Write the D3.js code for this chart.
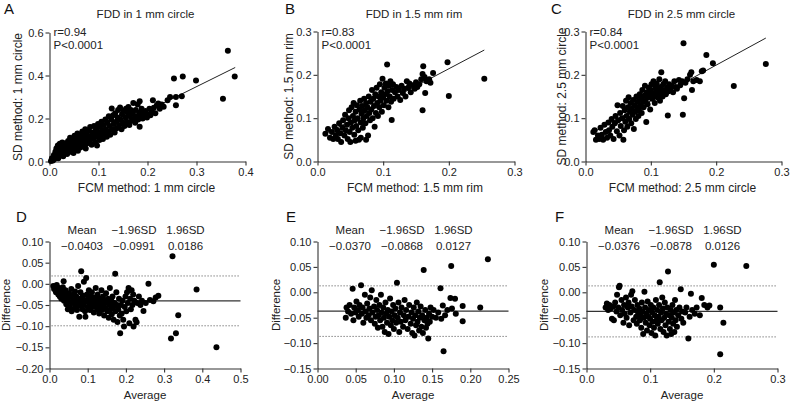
<!DOCTYPE html>
<html><head><meta charset="utf-8">
<script src="https://cdn.jsdelivr.net/npm/d3@7"></script>
<style>
html,body{margin:0;padding:0;background:#fff;}
svg{display:block;font-family:"Liberation Sans",Arial,Helvetica,sans-serif;}
</style></head>
<body>
<svg id="chart" width="790" height="403"></svg>
<script>
// ---------------- DATA ----------------
const panelLetters = ["A","B","C","D","E","F"];
const corrTitles = ["FDD in 1 mm circle","FDD in 1.5 mm rim","FDD in 2.5 mm circle"];
const corrXLabels = ["FCM method: 1 mm circle","FCM method: 1.5 mm rim","FCM method: 2.5 mm circle"];
const corrYLabels = ["SD method: 1 mm circle","SD method: 1.5 mm rim","SD method: 2.5 mm circle"];
const corrR = ["r=0.94","r=0.83","r=0.84"];
const corrP = ["P<0.0001","P<0.0001","P<0.0001"];
// regression lines: [slope, intercept, xStart, xEnd]
const fitA = [1.13, 0.009, 0.004, 0.379];
const fitB = [0.80, 0.054, 0.016, 0.254];
const fitC = [0.822, 0.058, 0.012, 0.276];

const xTicksA = [0,0.1,0.2,0.3,0.4], yTicksA = [0,0.2,0.4,0.6];
const xTicksB = [0,0.1,0.2,0.3],     yTicksB = [0,0.1,0.2,0.3];
const xTicksC = [0,0.1,0.2,0.3],     yTicksC = [0,0.1,0.2,0.3];
const xTicksD = [0,0.1,0.2,0.3,0.4,0.5], yTicksD = [-0.2,-0.15,-0.1,-0.05,0,0.05,0.1];
const xTicksE = [0,0.05,0.1,0.15,0.2,0.25], yTicksE = [-0.15,-0.1,-0.05,0,0.05,0.1];
const xTicksF = [0,0.1,0.2,0.3], yTicksF = [-0.15,-0.1,-0.05,0,0.05,0.1];

const baHeaders = ["Mean","\u22121.96SD","1.96SD"];
const baStatsD = [-0.0403,-0.0991,0.0186];
const baStatsE = [-0.0370,-0.0868,0.0127];
const baStatsF = [-0.0376,-0.0878,0.0126];
const baXLabel = "Average", baYLabel = "Difference";

// FCM (x) vs SD (y), 1 mm circle
const pointsA = [[0.003,0.002],[0.005,0.015],[0.007,0.005],[0.009,0.030],[0.010,0.012],[0.012,0.045],[0.013,0.022],[0.014,0.060],[0.016,0.035],[0.017,0.075],[0.018,0.015],[0.020,0.050],[0.021,0.082],[0.022,0.030],[0.024,0.065],[0.025,0.045],[0.026,0.088],[0.028,0.025],[0.029,0.070],[0.030,0.055],[0.032,0.040],[0.033,0.085],[0.035,0.062],[0.036,0.035],[0.038,0.095],[0.039,0.050],[0.040,0.075],[0.042,0.110],[0.043,0.045],[0.044,0.090],[0.046,0.065],[0.047,0.105],[0.049,0.040],[0.050,0.080],[0.051,0.120],[0.053,0.058],[0.054,0.098],[0.056,0.075],[0.057,0.130],[0.058,0.050],[0.060,0.110],[0.061,0.085],[0.063,0.065],[0.064,0.125],[0.066,0.095],[0.067,0.140],[0.069,0.075],[0.070,0.115],[0.072,0.100],[0.073,0.150],[0.074,0.060],[0.076,0.130],[0.077,0.085],[0.079,0.110],[0.080,0.145],[0.082,0.095],[0.083,0.160],[0.085,0.120],[0.086,0.078],[0.088,0.135],[0.089,0.105],[0.091,0.165],[0.092,0.125],[0.094,0.090],[0.095,0.150],[0.096,0.115],[0.097,0.074],[0.099,0.175],[0.100,0.135],[0.102,0.100],[0.103,0.160],[0.105,0.120],[0.106,0.185],[0.108,0.145],[0.109,0.105],[0.111,0.170],[0.112,0.130],[0.114,0.195],[0.115,0.150],[0.117,0.115],[0.118,0.180],[0.120,0.140],[0.121,0.210],[0.123,0.165],[0.124,0.125],[0.126,0.195],[0.127,0.246],[0.128,0.150],[0.130,0.215],[0.131,0.175],[0.133,0.135],[0.134,0.225],[0.136,0.185],[0.137,0.155],[0.139,0.205],[0.140,0.240],[0.142,0.170],[0.144,0.251],[0.145,0.195],[0.147,0.150],[0.148,0.220],[0.150,0.180],[0.151,0.235],[0.153,0.165],[0.155,0.205],[0.156,0.245],[0.158,0.185],[0.160,0.225],[0.161,0.254],[0.163,0.170],[0.164,0.210],[0.166,0.240],[0.168,0.190],[0.170,0.225],[0.171,0.272],[0.173,0.200],[0.175,0.180],[0.176,0.240],[0.178,0.210],[0.180,0.265],[0.181,0.195],[0.183,0.228],[0.184,0.162],[0.184,0.280],[0.186,0.212],[0.188,0.245],[0.190,0.200],[0.192,0.225],[0.194,0.210],[0.196,0.235],[0.199,0.205],[0.201,0.220],[0.204,0.245],[0.206,0.215],[0.209,0.232],[0.211,0.285],[0.213,0.250],[0.216,0.225],[0.219,0.262],[0.222,0.270],[0.225,0.245],[0.229,0.265],[0.233,0.255],[0.241,0.285],[0.246,0.300],[0.254,0.386],[0.258,0.300],[0.258,0.262],[0.270,0.303],[0.272,0.395],[0.299,0.377],[0.354,0.292],[0.364,0.515],[0.378,0.395]];

// 1.5 mm rim
const pointsB = [[0.012,0.064],[0.016,0.075],[0.019,0.055],[0.022,0.068],[0.024,0.052],[0.026,0.080],[0.028,0.060],[0.030,0.072],[0.031,0.052],[0.033,0.088],[0.035,0.065],[0.036,0.045],[0.038,0.078],[0.039,0.095],[0.041,0.060],[0.042,0.108],[0.043,0.072],[0.045,0.085],[0.046,0.052],[0.047,0.100],[0.048,0.118],[0.049,0.068],[0.050,0.045],[0.051,0.090],[0.052,0.125],[0.053,0.078],[0.054,0.105],[0.055,0.135],[0.056,0.062],[0.057,0.095],[0.058,0.115],[0.059,0.082],[0.060,0.130],[0.061,0.100],[0.062,0.072],[0.063,0.050],[0.064,0.120],[0.065,0.140],[0.066,0.090],[0.067,0.110],[0.068,0.128],[0.069,0.078],[0.070,0.100],[0.071,0.145],[0.072,0.118],[0.073,0.088],[0.074,0.135],[0.075,0.105],[0.076,0.125],[0.077,0.060],[0.078,0.150],[0.079,0.112],[0.080,0.095],[0.081,0.138],[0.082,0.120],[0.083,0.165],[0.084,0.100],[0.085,0.145],[0.086,0.128],[0.087,0.080],[0.088,0.155],[0.089,0.112],[0.090,0.170],[0.091,0.135],[0.092,0.105],[0.093,0.150],[0.094,0.125],[0.095,0.178],[0.096,0.140],[0.097,0.160],[0.098,0.115],[0.099,0.191],[0.100,0.148],[0.101,0.130],[0.102,0.170],[0.103,0.155],[0.104,0.180],[0.105,0.140],[0.106,0.224],[0.107,0.162],[0.108,0.125],[0.109,0.175],[0.110,0.150],[0.111,0.185],[0.112,0.138],[0.113,0.096],[0.114,0.165],[0.115,0.178],[0.116,0.145],[0.118,0.160],[0.120,0.172],[0.122,0.150],[0.124,0.165],[0.126,0.142],[0.128,0.175],[0.130,0.158],[0.132,0.168],[0.134,0.150],[0.136,0.185],[0.138,0.170],[0.140,0.180],[0.142,0.160],[0.145,0.176],[0.148,0.168],[0.150,0.183],[0.152,0.172],[0.155,0.178],[0.158,0.190],[0.160,0.202],[0.160,0.118],[0.161,0.220],[0.163,0.195],[0.164,0.158],[0.166,0.185],[0.170,0.190],[0.172,0.182],[0.176,0.204],[0.198,0.229],[0.200,0.151],[0.254,0.191],[0.058,0.048],[0.066,0.055],[0.074,0.050]];

// 2.5 mm circle
const pointsC = [[0.012,0.068],[0.014,0.072],[0.016,0.050],[0.019,0.060],[0.021,0.052],[0.023,0.078],[0.025,0.062],[0.027,0.050],[0.029,0.085],[0.031,0.068],[0.033,0.055],[0.035,0.090],[0.036,0.072],[0.038,0.060],[0.040,0.098],[0.041,0.080],[0.043,0.052],[0.045,0.088],[0.046,0.105],[0.048,0.070],[0.049,0.130],[0.050,0.095],[0.052,0.060],[0.053,0.112],[0.054,0.082],[0.056,0.100],[0.057,0.128],[0.058,0.050],[0.059,0.072],[0.060,0.118],[0.061,0.092],[0.062,0.140],[0.063,0.105],[0.064,0.080],[0.065,0.125],[0.066,0.148],[0.067,0.098],[0.068,0.115],[0.069,0.135],[0.070,0.088],[0.071,0.122],[0.072,0.108],[0.073,0.142],[0.074,0.075],[0.075,0.130],[0.076,0.115],[0.077,0.098],[0.078,0.150],[0.079,0.125],[0.080,0.138],[0.081,0.105],[0.082,0.118],[0.083,0.155],[0.084,0.130],[0.085,0.145],[0.086,0.112],[0.087,0.165],[0.088,0.138],[0.089,0.125],[0.090,0.152],[0.091,0.175],[0.092,0.140],[0.093,0.091],[0.094,0.160],[0.095,0.132],[0.096,0.148],[0.097,0.170],[0.098,0.155],[0.099,0.120],[0.100,0.165],[0.101,0.178],[0.102,0.145],[0.103,0.158],[0.104,0.185],[0.105,0.150],[0.106,0.135],[0.107,0.170],[0.108,0.160],[0.109,0.180],[0.110,0.148],[0.111,0.165],[0.112,0.155],[0.113,0.190],[0.114,0.140],[0.115,0.172],[0.116,0.206],[0.117,0.160],[0.118,0.150],[0.119,0.178],[0.120,0.165],[0.122,0.185],[0.123,0.155],[0.125,0.170],[0.126,0.106],[0.127,0.162],[0.128,0.178],[0.130,0.168],[0.132,0.175],[0.134,0.160],[0.136,0.185],[0.138,0.172],[0.140,0.168],[0.143,0.188],[0.145,0.176],[0.148,0.185],[0.149,0.108],[0.150,0.273],[0.151,0.146],[0.153,0.182],[0.156,0.190],[0.160,0.200],[0.162,0.206],[0.163,0.165],[0.165,0.185],[0.170,0.188],[0.175,0.185],[0.178,0.208],[0.180,0.210],[0.185,0.246],[0.195,0.227],[0.227,0.174],[0.276,0.225]];

// Bland-Altman: [average, difference]
const pointsD = [[0.010,-0.005],[0.012,-0.012],[0.015,-0.008],[0.017,-0.020],[0.019,-0.003],[0.021,-0.015],[0.023,-0.025],[0.025,-0.010],[0.027,-0.030],[0.029,-0.018],[0.031,-0.035],[0.033,-0.022],[0.035,-0.008],[0.037,0.006],[0.038,-0.040],[0.040,-0.028],[0.042,-0.015],[0.044,-0.048],[0.046,-0.035],[0.048,-0.060],[0.050,-0.022],[0.051,-0.042],[0.053,-0.055],[0.055,-0.030],[0.057,-0.012],[0.058,-0.065],[0.060,-0.045],[0.062,-0.025],[0.063,-0.038],[0.065,-0.058],[0.067,-0.018],[0.068,-0.048],[0.070,-0.030],[0.072,-0.062],[0.073,-0.040],[0.075,-0.005],[0.076,-0.052],[0.078,-0.078],[0.080,-0.035],[0.081,-0.020],[0.083,0.030],[0.084,-0.045],[0.086,-0.060],[0.087,-0.028],[0.089,-0.050],[0.090,0.005],[0.091,-0.038],[0.093,-0.065],[0.094,-0.078],[0.096,0.014],[0.097,-0.042],[0.098,-0.025],[0.100,-0.055],[0.101,-0.035],[0.103,-0.015],[0.105,-0.048],[0.106,-0.062],[0.108,-0.030],[0.110,-0.040],[0.111,-0.020],[0.113,-0.055],[0.115,-0.045],[0.116,-0.068],[0.118,-0.032],[0.120,-0.050],[0.121,-0.010],[0.123,-0.040],[0.125,-0.060],[0.126,-0.025],[0.128,-0.048],[0.130,-0.070],[0.131,-0.035],[0.133,-0.055],[0.135,-0.042],[0.136,-0.015],[0.138,-0.062],[0.140,-0.030],[0.141,-0.050],[0.143,-0.075],[0.145,-0.040],[0.146,-0.058],[0.148,-0.022],[0.150,-0.045],[0.152,-0.065],[0.153,-0.035],[0.155,-0.080],[0.157,-0.050],[0.158,-0.010],[0.160,-0.060],[0.162,-0.040],[0.163,-0.072],[0.165,-0.030],[0.167,-0.055],[0.168,-0.085],[0.170,-0.045],[0.172,0.024],[0.173,-0.065],[0.175,-0.020],[0.177,-0.050],[0.178,-0.090],[0.180,-0.060],[0.182,-0.035],[0.184,-0.075],[0.185,-0.117],[0.187,-0.050],[0.189,-0.070],[0.191,-0.040],[0.193,-0.085],[0.195,-0.101],[0.197,-0.055],[0.199,-0.030],[0.201,-0.065],[0.203,-0.020],[0.205,-0.045],[0.207,-0.010],[0.209,-0.093],[0.211,-0.035],[0.213,-0.060],[0.215,-0.015],[0.217,-0.050],[0.219,-0.025],[0.220,-0.101],[0.222,-0.040],[0.225,-0.085],[0.228,-0.091],[0.230,-0.045],[0.234,-0.030],[0.238,-0.050],[0.242,-0.040],[0.246,-0.064],[0.252,-0.045],[0.259,0.000],[0.263,-0.038],[0.272,-0.041],[0.278,-0.032],[0.285,-0.028],[0.318,-0.129],[0.322,0.065],[0.331,-0.117],[0.337,-0.074],[0.385,-0.0135],[0.437,-0.150]];

const pointsE = [[0.037,-0.050],[0.038,-0.030],[0.040,-0.038],[0.042,-0.025],[0.044,-0.042],[0.046,0.007],[0.047,-0.055],[0.048,-0.030],[0.050,-0.040],[0.051,-0.018],[0.053,-0.035],[0.054,-0.048],[0.055,-0.025],[0.057,0.014],[0.058,-0.042],[0.059,-0.030],[0.060,-0.060],[0.062,-0.005],[0.063,-0.038],[0.064,-0.050],[0.065,-0.022],[0.067,-0.045],[0.068,-0.032],[0.069,-0.010],[0.070,-0.055],[0.071,0.004],[0.072,-0.040],[0.074,-0.028],[0.075,-0.062],[0.076,-0.048],[0.077,-0.015],[0.078,-0.035],[0.079,-0.070],[0.080,-0.045],[0.081,-0.025],[0.082,-0.055],[0.083,-0.005],[0.084,-0.040],[0.085,-0.068],[0.086,-0.030],[0.087,-0.050],[0.088,-0.078],[0.089,-0.020],[0.090,-0.042],[0.091,-0.060],[0.092,-0.035],[0.093,-0.082],[0.094,-0.048],[0.095,-0.012],[0.096,-0.065],[0.097,-0.038],[0.098,-0.055],[0.099,-0.025],[0.100,-0.072],[0.101,-0.045],[0.102,-0.032],[0.103,-0.060],[0.104,0.019],[0.105,-0.050],[0.106,-0.020],[0.107,-0.078],[0.108,-0.040],[0.109,-0.058],[0.110,-0.030],[0.112,-0.068],[0.113,-0.045],[0.114,-0.015],[0.115,-0.055],[0.116,-0.035],[0.118,-0.072],[0.119,-0.048],[0.120,-0.025],[0.122,-0.062],[0.123,-0.040],[0.124,-0.080],[0.125,-0.052],[0.126,-0.030],[0.127,-0.085],[0.128,-0.045],[0.129,-0.065],[0.130,-0.020],[0.131,-0.058],[0.132,-0.038],[0.133,-0.075],[0.134,-0.050],[0.135,-0.028],[0.136,-0.068],[0.137,-0.045],[0.138,-0.080],[0.139,0.044],[0.140,-0.055],[0.141,-0.035],[0.142,-0.070],[0.143,-0.050],[0.144,-0.062],[0.145,-0.091],[0.146,-0.042],[0.147,-0.058],[0.148,-0.030],[0.150,-0.048],[0.152,-0.035],[0.155,-0.050],[0.158,-0.040],[0.161,0.008],[0.162,-0.052],[0.164,-0.026],[0.165,-0.116],[0.167,-0.045],[0.170,-0.035],[0.174,-0.011],[0.175,0.052],[0.176,-0.032],[0.180,-0.0125],[0.181,-0.042],[0.190,-0.027],[0.190,-0.057],[0.213,-0.030],[0.223,0.065]];

const pointsF = [[0.030,-0.030],[0.032,-0.022],[0.034,-0.035],[0.036,-0.025],[0.038,-0.032],[0.040,-0.052],[0.042,-0.028],[0.043,-0.055],[0.045,-0.020],[0.047,-0.038],[0.048,-0.005],[0.050,-0.030],[0.051,0.010],[0.052,0.013],[0.053,-0.045],[0.055,-0.015],[0.056,-0.035],[0.058,-0.060],[0.059,-0.025],[0.060,-0.042],[0.062,-0.010],[0.063,-0.050],[0.065,-0.030],[0.066,-0.020],[0.067,-0.065],[0.069,-0.040],[0.070,-0.005],[0.071,-0.028],[0.072,0.002],[0.074,-0.055],[0.075,-0.035],[0.076,-0.015],[0.078,-0.048],[0.079,-0.062],[0.080,-0.025],[0.081,-0.040],[0.083,-0.032],[0.084,-0.055],[0.085,-0.045],[0.086,-0.070],[0.087,-0.020],[0.088,-0.038],[0.089,-0.082],[0.090,-0.050],[0.091,0.001],[0.092,-0.030],[0.093,-0.060],[0.094,-0.042],[0.095,-0.075],[0.096,-0.018],[0.097,-0.048],[0.098,-0.035],[0.099,-0.065],[0.100,-0.052],[0.101,-0.025],[0.102,-0.080],[0.103,-0.040],[0.104,-0.058],[0.105,-0.030],[0.106,-0.070],[0.107,-0.045],[0.108,-0.085],[0.109,-0.015],[0.110,-0.055],[0.111,-0.035],[0.112,-0.062],[0.113,-0.048],[0.114,-0.025],[0.115,0.020],[0.116,-0.072],[0.117,-0.040],[0.118,-0.055],[0.119,-0.010],[0.120,-0.032],[0.121,-0.078],[0.122,-0.050],[0.123,-0.020],[0.124,-0.065],[0.125,-0.042],[0.126,-0.085],[0.127,-0.030],[0.128,0.041],[0.129,-0.058],[0.130,-0.045],[0.131,-0.072],[0.132,-0.035],[0.133,-0.082],[0.134,-0.050],[0.135,-0.025],[0.136,-0.062],[0.137,-0.040],[0.138,-0.078],[0.139,-0.015],[0.140,-0.055],[0.141,-0.035],[0.142,-0.068],[0.144,-0.045],[0.146,-0.030],[0.148,0.006],[0.149,-0.052],[0.150,-0.038],[0.152,-0.060],[0.155,-0.040],[0.157,-0.030],[0.160,-0.091],[0.162,-0.048],[0.164,-0.003],[0.166,-0.035],[0.170,-0.042],[0.173,-0.030],[0.178,-0.045],[0.181,-0.011],[0.185,-0.025],[0.190,-0.030],[0.193,-0.026],[0.200,0.054],[0.210,-0.030],[0.210,-0.122],[0.215,-0.060],[0.251,0.052]];

// ---------------- LAYOUT ----------------
const svg = d3.select("#chart");
const INK = "#222", AXIS = "#333";

const corrPanels = [
  {L:"A", pts:pointsA, fit:fitA, xd:[0,0.4], yd:[0,0.6], xt:xTicksA, yt:yTicksA, xf:".1f", yf:".1f",
   box:[49.5,245.5,32.5,161.5], letterX:4, ylabX:22},
  {L:"B", pts:pointsB, fit:fitB, xd:[0,0.3], yd:[0,0.3], xt:xTicksB, yt:yTicksB, xf:".1f", yf:".1f",
   box:[317.5,514.5,31.5,161.5], letterX:285, ylabX:292.5},
  {L:"C", pts:pointsC, fit:fitC, xd:[0,0.3], yd:[0,0.3], xt:xTicksC, yt:yTicksC, xf:".1f", yf:".1f",
   box:[585.5,781.5,31.5,161.5], letterX:551, ylabX:566}
];
const baPanels = [
  {L:"D", pts:pointsD, st:baStatsD, xd:[0,0.5], yd:[-0.2,0.1], xt:xTicksD, yt:yTicksD, xf:".1f", yf:".2f",
   box:[49.5,240.5,241.5,368.5], letterX:16, ylabX:10},
  {L:"E", pts:pointsE, st:baStatsE, xd:[0,0.25], yd:[-0.15,0.1], xt:xTicksE, yt:yTicksE, xf:".2f", yf:".2f",
   box:[317.5,508.5,241.5,368.5], letterX:286, ylabX:280},
  {L:"F", pts:pointsF, st:baStatsF, xd:[0,0.3], yd:[-0.15,0.1], xt:xTicksF, yt:yTicksF, xf:".1f", yf:".2f",
   box:[586.5,777.5,241.5,368.5], letterX:555, ylabX:548}
];

function drawAxes(g, p, x, y){
  const [l,r,t,b] = p.box;
  const ax = g.append("g").attr("transform",`translate(0,${b})`)
    .call(d3.axisBottom(x).tickValues(p.xt).tickFormat(d3.format(p.xf)).tickSize(4).tickPadding(3).tickSizeOuter(0));
  const ay = g.append("g").attr("transform",`translate(${l},0)`)
    .call(d3.axisLeft(y).tickValues(p.yt).tickFormat(d3.format(p.yf)).tickSize(4).tickPadding(2).tickSizeOuter(0));
  [ax,ay].forEach(a=>{
    a.select(".domain").attr("stroke",AXIS).attr("stroke-width",1.1);
    a.selectAll(".tick line").attr("stroke",AXIS).attr("stroke-width",1.1);
    a.selectAll(".tick text").attr("fill",INK).style("font-size","11px");
  });
}

function dots(g, pts, x, y){
  g.append("g").selectAll("circle").data(pts).join("circle")
    .attr("cx",d=>x(d[0])).attr("cy",d=>y(d[1])).attr("r",3).attr("fill","#000");
}

corrPanels.forEach((p,i)=>{
  const [l,r,t,b] = p.box;
  const x = d3.scaleLinear().domain(p.xd).range([l,r]);
  const y = d3.scaleLinear().domain(p.yd).range([b,t]);
  const g = svg.append("g");
  drawAxes(g,p,x,y);
  const [m,c,x0,x1] = p.fit;
  g.append("line").attr("x1",x(x0)).attr("y1",y(m*x0+c)).attr("x2",x(x1)).attr("y2",y(m*x1+c))
    .attr("stroke","#222").attr("stroke-width",1);
  dots(g,p.pts,x,y);
  g.append("text").attr("x",p.letterX).attr("y",14).text(p.L).style("font-size","15px").attr("fill","#111");
  g.append("text").attr("x",(l+r)/2-2).attr("y",17.5).attr("text-anchor","middle").text(corrTitles[i])
    .style("font-size","11.5px").attr("fill",INK);
  g.append("text").attr("x",l+4).attr("y",36).text(corrR[i]).style("font-size","11.5px").attr("fill",INK);
  g.append("text").attr("x",l+4).attr("y",48.5).text(corrP[i]).style("font-size","11.5px").attr("fill",INK);
  g.append("text").attr("x",(l+r)/2-1).attr("y",192).attr("text-anchor","middle").text(corrXLabels[i])
    .style("font-size","12px").attr("fill",INK);
  g.append("text").attr("transform",`translate(${p.ylabX},${(t+b)/2}) rotate(-90)`).attr("text-anchor","middle")
    .text(corrYLabels[i]).style("font-size","12px").attr("fill",INK);
});

baPanels.forEach((p,i)=>{
  const [l,r,t,b] = p.box;
  const x = d3.scaleLinear().domain(p.xd).range([l,r]);
  const y = d3.scaleLinear().domain(p.yd).range([b,t]);
  const g = svg.append("g");
  drawAxes(g,p,x,y);
  [p.st[1],p.st[2]].forEach(v=>{
    g.append("line").attr("x1",l+2).attr("x2",r).attr("y1",y(v)).attr("y2",y(v))
      .attr("stroke","#666").attr("stroke-width",1).attr("stroke-dasharray","1.2,1.8");
  });
  g.append("line").attr("x1",l).attr("x2",r).attr("y1",y(p.st[0])).attr("y2",y(p.st[0]))
    .attr("stroke","#333").attr("stroke-width",1.3);
  dots(g,p.pts,x,y);
  g.append("text").attr("x",p.letterX).attr("y",222).text(p.L).style("font-size","15px").attr("fill","#111");
  const offs = [32.5,84.5,136];
  baHeaders.forEach((h,k)=>{
    g.append("text").attr("x",l+offs[k]).attr("y",233.5).attr("text-anchor","middle").text(h)
      .style("font-size","11.5px").attr("fill",INK);
    g.append("text").attr("x",l+offs[k]).attr("y",249.5).attr("text-anchor","middle")
      .text(d3.format(".4f")(p.st[k])).style("font-size","11.5px").attr("fill",INK);
  });
  g.append("text").attr("x",(l+r)/2).attr("y",399).attr("text-anchor","middle").text(baXLabel)
    .style("font-size","11.5px").attr("fill",INK);
  g.append("text").attr("transform",`translate(${p.ylabX},${(t+b)/2}) rotate(-90)`).attr("text-anchor","middle")
    .text(baYLabel).style("font-size","11.5px").attr("fill",INK);
});
</script>
</body></html>
